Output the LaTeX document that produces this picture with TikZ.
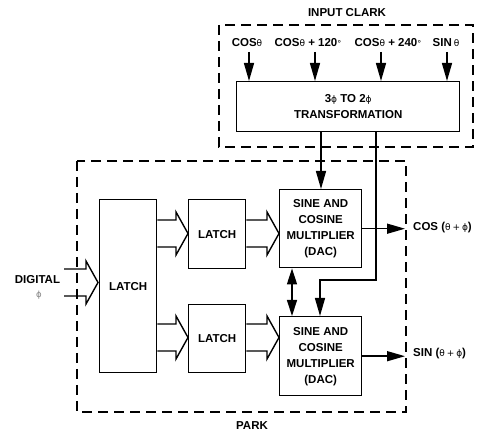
\documentclass[tikz,border=0pt]{standalone}
\usepackage{fontspec}
\setmainfont{Liberation Sans}
\newfontfamily\symf{DejaVu Sans}
\usetikzlibrary{arrows.meta,calc}
\newcommand{\gth}{{\symf\mdseries\fontsize{9}{10}\selectfont θ}}
\newcommand{\gph}{{\symf\mdseries\fontsize{9}{10}\selectfont ϕ}}
\newcommand{\gdeg}{{\symf\mdseries\fontsize{8}{10}\selectfont °}}
\newcommand{\gplus}{{\symf\mdseries\fontsize{9}{10}\selectfont +}}
% wide (hollow) bus arrow: #1 start point, #2 tip point (both at centre line)
\newcommand{\widearr}[2]{%
  \draw[wide] ($(#1)+(0,13.5)$) -- ($(#2)+(-12,13.5)$) -- ($(#2)+(-12,21.5)$)
    -- (#2) -- ($(#2)+(-12,-21.5)$) -- ($(#2)+(-12,-13.5)$) -- ($(#1)+(0,-13.5)$);}
\begin{document}
\begin{tikzpicture}[x=1pt,y=1pt,
  every node/.style={font=\bfseries\fontsize{11.5}{16}\selectfont, inner sep=0pt},
  box/.style={draw, line width=1.4pt, anchor=north west, align=center},
  dashbox/.style={line width=1.7pt, dash pattern=on 10pt off 6pt},
  arr/.style={line width=1.4pt, -{Triangle[length=18pt,width=10pt]}},
  darr/.style={line width=1.4pt, {Triangle[length=16pt,width=10pt]}-{Triangle[length=16pt,width=10pt]}},
  wide/.style={line width=1.4pt, miter limit=10},
  lbl/.style={}]
\useasboundingbox (0,0) rectangle (477,434);

% dashed frames
\draw[dashbox] (219,409) rectangle (473,287);
\draw[dashbox] (77,273) rectangle (406,22);
\node[lbl] (clark) at (347,421) {INPUT CLARK};
\node[lbl] (park) at (252,8) {PARK};

% blocks
\node[box, minimum width=223pt, minimum height=50pt] (trans) at (236,353)
  {3\gph\ TO 2\gph\\TRANSFORMATION};
\node[box, minimum width=57pt, minimum height=173pt] (biglatch) at (99,235) {LATCH};
\node[box, minimum width=57pt, minimum height=69pt] (latch1) at (188,235) {LATCH};
\node[box, minimum width=57pt, minimum height=68pt] (latch2) at (188,130) {LATCH};
\node[box, minimum width=82pt, minimum height=78pt] (dac1) at (279,245)
  {SINE AND\\COSINE\\MULTIPLIER\\(DAC)};
\node[box, minimum width=82pt, minimum height=79pt] (dac2) at (279,118)
  {SINE AND\\COSINE\\MULTIPLIER\\(DAC)};

% input labels and arrows
\node[lbl] (l1) at (247,391) {COS\gth};
\node[lbl] (l2) at (308,391) {COS\gth\ + 120\gdeg};
\node[lbl] (l3) at (388,391) {COS\gth\ + 240\gdeg};
\node[lbl] (l4) at (446,391) {SIN\,\gth};
\coordinate (i1) at (249,382);
\coordinate (i2) at (315,382);
\coordinate (i3) at (381,382);
\coordinate (i4) at (447,382);
\foreach \i in {i1,i2,i3,i4} \draw[arr] (\i) -- (trans.north -| \i);

% transformation to DACs
\coordinate (t1) at (321,0);
\coordinate (t2) at (376,0);
\coordinate (bend) at (376,154);
\coordinate (d2x) at (320,0);
\draw[arr] (trans.south -| t1) -- (dac1.north -| t1);
\draw[arr] (trans.south -| t2) -- (bend) -- (bend -| d2x) -- (dac2.north -| d2x);
\coordinate (bd) at (292,0);
\draw[darr] (dac1.south -| bd) -- (dac2.north -| bd);

% outputs
\coordinate (o1) at (405,0);
\draw[arr] (dac1.east) -- (dac1.east -| o1);
\draw[arr] (dac2.east) -- (dac2.east -| o1);
\node[lbl, anchor=west] (cosout) at (413,206) {COS (\gth\,\gplus\,\gph)};
\node[lbl, anchor=west] (sinout) at (413,80) {SIN (\gth\,\gplus\,\gph)};

% digital input
\node[lbl] (dig) at (37.5,154) {DIGITAL};
\node[font=\mdseries\fontsize{8.5}{10}\selectfont, text=gray] (phi) at (39,139) {\symf ϕ};
\coordinate (din) at (64,151.5);
\coordinate (dtip) at (98,151.5);
\widearr{din}{dtip}

% bus arrows
\coordinate (y1) at (0,200.5);
\coordinate (y2) at (0,96.5);
\widearr{biglatch.east |- y1}{latch1.west |- y1}
\widearr{biglatch.east |- y2}{latch2.west |- y2}
\widearr{latch1.east |- y1}{dac1.west |- y1}
\widearr{latch2.east |- y2}{dac2.west |- y2}
\end{tikzpicture}
\end{document}
